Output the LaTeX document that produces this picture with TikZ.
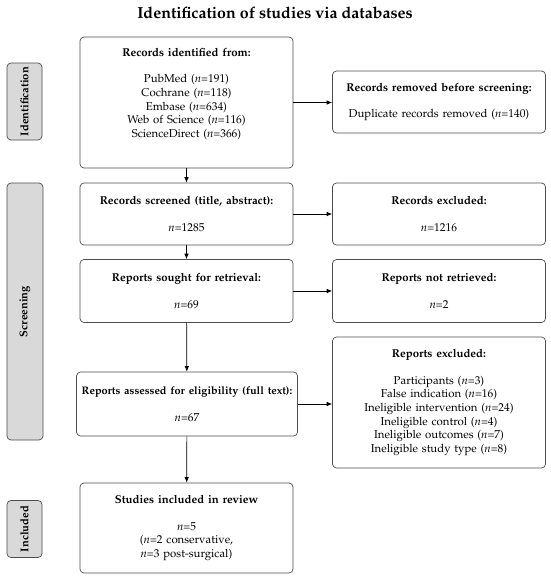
\documentclass[tikz,border=0pt]{standalone}
\usepackage[T1]{fontenc}
\usepackage{mathpazo}
\usetikzlibrary{arrows.meta}

\tikzset{
  box/.style={draw=black!70, line width=0.7pt, rounded corners=4pt, align=center,
    inner sep=2pt, text width=207pt, minimum width=213pt,
    font=\fontsize{11.4}{13.6}\selectfont},
  phase/.style={draw=black!70, fill=black!15, line width=0.7pt, rounded corners=4pt,
    rotate=90, inner sep=0pt, font=\bfseries\fontsize{11.2}{13}\selectfont},
  flow/.style={-{Latex[length=5.5pt,width=4.5pt]}, line width=0.7pt},
}
\newcommand{\nn}[1]{\textit{n}=#1}

\begin{document}
\begin{tikzpicture}[x=1pt,y=-1pt]
\useasboundingbox (0,0) rectangle (550,579);
\node[font=\bfseries\fontsize{16}{19}\selectfont] (title) at (275,13) {Identification of studies via databases};
% phases on the left
\node[phase, minimum width=77pt, minimum height=35pt] (phid) at (24.5,101.5) {Identification};
\node[phase, minimum width=257pt, minimum height=36pt] (phsc) at (25,311.5) {Screening};
\node[phase, minimum width=57pt, minimum height=35pt] (phin) at (24.5,529) {Included};
% main column
\node[box, minimum height=131pt] (found) at (186.5,102.5) {\textbf{Records identified from:}\\[13pt]
  PubMed (\nn{191})\\ Cochrane (\nn{118})\\ Embase (\nn{634})\\ Web of Science (\nn{116})\\ ScienceDirect (\nn{366})\\[6pt]\mbox{}};
\node[box, minimum height=62pt] (screen) at (186.5,214) {\textbf{Records screened (title, abstract):}\\[13pt]\nn{1285}};
\node[box, minimum height=63pt] (sought) at (186.5,291) {\textbf{Reports sought for retrieval:}\\[13pt]\nn{69}};
\node[box, minimum height=64pt, minimum width=221pt, text width=215pt] (assess) at (187,404) {\makebox[\linewidth]{\fontsize{10.9}{13.6}\selectfont\textbf{Reports assessed for eligibility (full text):}}\\[13pt]\nn{67}};
\node[box, minimum height=90pt] (incl) at (186.5,528) {\textbf{Studies included in review}\\[13pt]\nn{5}\\ (\nn{2} conservative,\\ \nn{3} post-surgical)};
% right column
\node[box, minimum height=62pt] (dupl) at (439,102) {\textbf{Records removed before screening:}\\[13pt]Duplicate records removed (\nn{140})};
\node[box, minimum height=62pt] (excl) at (439,214) {\textbf{Records excluded:}\\[13pt]\nn{1216}};
\node[box, minimum height=63pt] (notret) at (439,291) {\textbf{Reports not retrieved:}\\[13pt]\nn{2}};
\node[box, minimum height=131pt] (repex) at (439,402.5) {\textbf{Reports excluded:}\\[13pt]
  Participants (\nn{3})\\ False indication (\nn{16})\\ Ineligible intervention (\nn{24})\\
  Ineligible control (\nn{4})\\ Ineligible outcomes (\nn{7})\\ Ineligible study type (\nn{8})};
% arrows
\draw[flow] (found) -- (screen);
\draw[flow] (screen) -- (sought);
\draw[flow] (sought) -- (assess);
\draw[flow] (assess) -- (incl);
\draw[flow] (found.east) -- (found.east -| dupl.west);
\draw[flow] (screen) -- (excl);
\draw[flow] (sought) -- (notret);
\draw[flow] (assess.east) -- (assess.east -| repex.west);
\end{tikzpicture}
\end{document}
